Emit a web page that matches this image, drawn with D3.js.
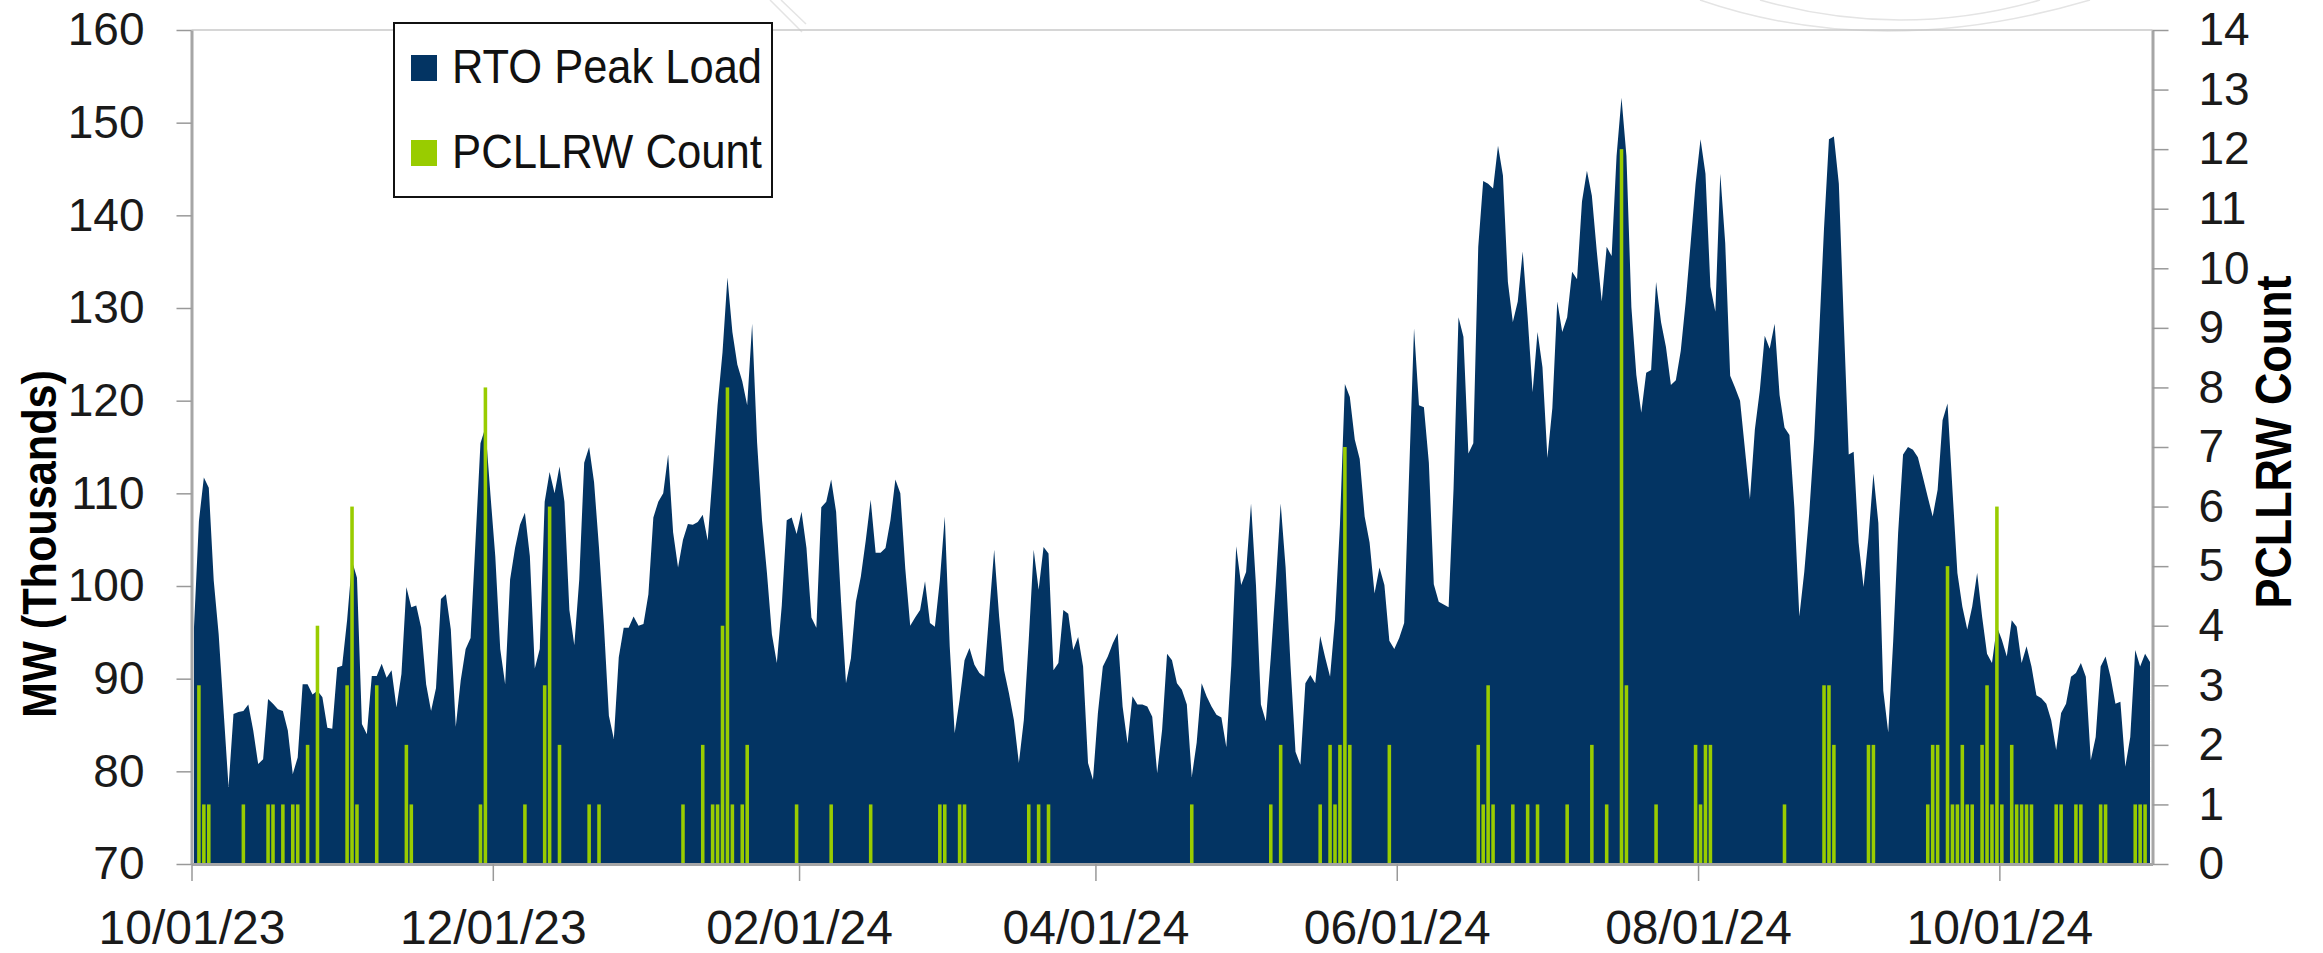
<!DOCTYPE html>
<html>
<head>
<meta charset="utf-8">
<script src="https://cdn.jsdelivr.net/npm/d3@7"></script>
<style>
  body { margin: 0; background: #fff; }
  svg { display: block; font-family: Arial, "Liberation Sans", sans-serif; }
</style>
</head>
<body>
<svg width="2323" height="953"></svg>
<script>
const startDate = new Date(Date.UTC(2023, 9, 1))
const endDate = new Date(Date.UTC(2024, 10, 1))

// RTO daily peak load (thousands of MW), one value per day starting 10/01/23
const peakLoad = [
    95.5, 107.0, 111.7, 110.6, 100.6, 94.8, 86.5, 78.3, 86.2, 86.4,
    86.5, 87.2, 84.4, 80.8, 81.3, 87.8, 87.3, 86.7, 86.5, 84.4,
    79.7, 81.5, 89.4, 89.4, 88.3, 88.7, 88.0, 84.7, 84.6, 91.2,
    91.4, 96.3, 102.7, 100.9, 85.1, 84.0, 90.3, 90.3, 91.6, 90.1,
    90.9, 86.9, 90.5, 99.9, 97.7, 97.9, 95.5, 89.4, 86.5, 89.0,
    98.6, 99.1, 95.3, 84.8, 89.8, 93.2, 94.4, 104.9, 115.4, 117.1,
    110.0, 103.2, 93.2, 89.4, 100.7, 104.1, 106.6, 107.9, 103.2, 91.1,
    93.2, 109.1, 112.3, 110.0, 112.9, 109.1, 97.4, 93.6, 100.7, 113.3,
    115.0, 111.2, 104.1, 95.7, 86.0, 83.5, 92.3, 95.5, 95.5, 96.7,
    95.7, 95.9, 99.1, 107.4, 109.1, 110.0, 114.2, 105.8, 102.0, 105.0,
    106.7, 106.6, 106.9, 107.7, 104.9, 112.0, 119.5, 125.2, 133.3, 127.4,
    123.9, 122.1, 119.5, 128.3, 115.5, 107.1, 101.4, 94.8, 91.7, 97.9,
    107.1, 107.4, 105.6, 108.0, 104.1, 96.6, 95.5, 108.5, 109.1, 111.5,
    108.0, 98.3, 89.5, 92.2, 98.3, 101.0, 104.9, 109.3, 103.6, 103.6,
    104.1, 107.1, 111.5, 110.0, 101.9, 95.7, 96.6, 97.4, 100.5, 96.0,
    95.6, 100.6, 107.5, 93.5, 84.1, 87.7, 92.0, 93.3, 91.5, 90.6,
    90.2, 97.1, 103.9, 96.7, 90.9, 88.4, 85.5, 80.9, 85.5, 94.2,
    103.9, 99.6, 104.2, 103.5, 90.9, 91.7, 97.4, 97.0, 93.1, 94.5,
    91.3, 80.9, 79.1, 86.3, 91.3, 92.4, 93.8, 94.9, 87.0, 83.0,
    88.1, 87.2, 87.2, 87.0, 85.9, 79.8, 84.5, 92.7, 92.0, 89.5,
    88.8, 87.2, 79.4, 83.1, 89.5, 88.1, 87.0, 86.1, 85.8, 82.6,
    91.4, 104.3, 100.1, 101.5, 108.9, 100.1, 87.2, 85.4, 92.3, 100.1,
    108.9, 102.0, 91.4, 82.1, 80.7, 89.5, 90.4, 89.5, 94.6, 92.3,
    90.2, 96.4, 106.6, 121.8, 120.4, 115.8, 113.7, 107.5, 104.7, 99.2,
    102.0, 100.1, 94.1, 93.2, 94.4, 96.0, 112.1, 127.8, 119.5, 119.3,
    113.3, 100.2, 98.3, 98.0, 97.7, 110.5, 129.0, 126.9, 114.3, 115.4,
    136.6, 143.7, 143.4, 142.9, 147.5, 144.3, 132.8, 128.5, 130.7, 136.1,
    129.0, 120.9, 127.4, 123.6, 113.8, 119.2, 130.7, 127.4, 129.0, 133.9,
    133.1, 141.5, 144.8, 142.1, 136.1, 130.7, 136.6, 135.6, 146.4, 152.7,
    146.4, 130.1, 122.8, 118.7, 123.0, 123.3, 132.8, 128.5, 125.8, 121.7,
    122.2, 125.4, 130.7, 137.0, 143.4, 148.2, 144.5, 132.3, 129.6, 144.5,
    137.0, 122.7, 121.4, 120.0, 114.7, 109.4, 116.9, 121.1, 127.0, 125.6,
    128.3, 120.6, 117.1, 116.3, 108.4, 96.7, 101.5, 107.8, 115.8, 127.0,
    138.6, 148.2, 148.5, 143.4, 128.5, 114.2, 114.5, 104.7, 99.9, 105.2,
    112.1, 106.8, 88.7, 84.2, 94.0, 105.7, 114.2, 115.0, 114.7, 113.9,
    111.8, 109.6, 107.5, 110.4, 117.9, 119.7, 110.4, 101.4, 97.8, 95.3,
    97.8, 101.4, 96.7, 92.7, 91.7, 95.6, 94.2, 92.4, 96.3, 95.6,
    91.7, 93.5, 91.3, 88.2, 87.9, 87.3, 85.5, 82.3, 86.3, 87.3,
    90.2, 90.6, 91.7, 90.2, 81.2, 83.7, 91.3, 92.4, 90.2, 87.3,
    87.5, 80.5, 83.7, 93.1, 91.3, 92.7, 91.8
]

// days (counted from 10/01/23) that had PCLLRW warnings, and how many
const pcllrwDays = [
    1, 2, 3, 10, 15, 16, 18, 20, 21, 23, 25, 31, 32, 33, 37, 43, 44,
    58, 59, 67, 71, 72, 74, 80, 82, 99,
    103, 105, 106, 107, 108, 109, 111, 112, 122, 129, 137,
    151, 152, 155, 156, 169, 171, 173,
    202, 218, 220, 228, 230, 231, 232, 233, 234, 242,
    260, 261, 262, 263, 267, 270, 272, 278, 283, 286, 289, 290, 296,
    304, 305, 306, 307, 322, 330, 331, 332, 339, 340,
    351, 352, 353, 355, 356, 357, 358, 359, 360, 362, 363, 364, 365, 366,
    368, 369, 370, 371, 372, 377, 378, 381, 382, 386, 387, 393, 394, 395
]
const pcllrwCounts = [
    3, 1, 1, 1, 1, 1, 1, 1, 1, 2, 4, 3, 6, 1, 3, 2, 1,
    1, 8, 1, 3, 6, 2, 1, 1, 1,
    2, 1, 1, 4, 8, 1, 1, 2, 1, 1, 1,
    1, 1, 1, 1, 1, 1, 1,
    1, 1, 2, 1, 2, 1, 2, 7, 2, 2,
    2, 1, 3, 1, 1, 1, 1, 1, 2, 1, 12, 3, 1,
    2, 1, 2, 2, 1, 3, 3, 2, 2, 2,
    1, 2, 2, 5, 1, 1, 2, 1, 1, 2, 3, 1, 6, 1,
    2, 1, 1, 1, 1, 1, 1, 1, 1, 1, 1, 1, 1, 1
]

const loadTicks = d3.range(70, 161, 10)
const countTicks = d3.range(0, 15)
const dateTicks = ['2023-10-01', '2023-12-01', '2024-02-01', '2024-04-01', '2024-06-01', '2024-08-01', '2024-10-01']

const navy = '#033463'
const green = '#99cc00'
const axisGrey = '#a6a6a6'

const svg = d3.select('svg')
const plot = { left: 191.5, right: 2152.5, top: 30, bottom: 864 }

const x = d3.scaleUtc().domain([startDate, endDate]).range([plot.left, plot.right])
const yLoad = d3.scaleLinear().domain([70, 160]).range([plot.bottom, plot.top])
const yCount = d3.scaleLinear().domain([0, 14]).range([plot.bottom, plot.top])

const dayWidth = x(d3.utcDay.offset(startDate, 1)) - x(startDate)
function dayX(i) {
    return x(d3.utcDay.offset(startDate, i)) + dayWidth / 2
}

// faint background watermark strokes from the slide template
const mark = svg.append('g')
    .attr('fill', 'none')
    .attr('stroke', '#e4e4e4')
    .attr('stroke-width', 1.5)
mark.append('path').attr('d', 'M770,0 L802,32')
mark.append('path').attr('d', 'M781,0 L806,24')
mark.append('path').attr('d', 'M1700,0 Q1880,62 2090,0')
mark.append('path').attr('d', 'M1760,0 Q1900,40 2040,0')

// peak load area
const area = d3.area()
    .x((d, i) => dayX(i))
    .y0(yLoad(70))
    .y1(d => yLoad(d))

svg.append('path')
    .datum(peakLoad)
    .attr('fill', navy)
    .attr('d', area)

// PCLLRW count columns on the secondary axis
const barWidth = dayWidth * 0.72
svg.append('g')
    .selectAll('rect')
    .data(pcllrwDays)
    .enter().append('rect')
    .attr('x', d => dayX(d) - barWidth / 2)
    .attr('y', (d, i) => yCount(pcllrwCounts[i]))
    .attr('width', barWidth)
    .attr('height', (d, i) => yCount(0) - yCount(pcllrwCounts[i]))
    .attr('fill', green)

// top border of plot area
svg.append('line')
    .attr('x1', plot.left).attr('x2', plot.right)
    .attr('y1', plot.top).attr('y2', plot.top)
    .attr('stroke', '#c8c8c8')
    .attr('stroke-width', 1.5)

function styleAxis(g, fontSize) {
    g.select('.domain').attr('stroke', axisGrey).attr('stroke-width', 3)
    g.selectAll('.tick line').attr('stroke', '#999').attr('stroke-width', 1.5)
    g.selectAll('.tick text').attr('fill', '#1a1a1a').style('font-size', fontSize + 'px')
    g.attr('font-family', null)
}

const leftAxis = svg.append('g')
    .attr('transform', `translate(${plot.left},0)`)
    .call(d3.axisLeft(yLoad).tickValues(loadTicks).tickSize(15).tickSizeOuter(0).tickPadding(32))
styleAxis(leftAxis, 46)

const rightAxis = svg.append('g')
    .attr('transform', `translate(${plot.right},0)`)
    .call(d3.axisRight(yCount).tickValues(countTicks).tickSize(16).tickSizeOuter(0).tickPadding(30))
styleAxis(rightAxis, 46)

const bottomAxis = svg.append('g')
    .attr('transform', `translate(0,${plot.bottom})`)
    .call(d3.axisBottom(x)
        .tickValues(dateTicks.map(d => new Date(d + 'T00:00:00Z')))
        .tickFormat(d3.utcFormat('%m/%d/%y'))
        .tickSize(17).tickSizeOuter(0))
styleAxis(bottomAxis, 48)
bottomAxis.selectAll('.tick text').attr('y', 80).attr('dy', null)

// axis titles
svg.append('text')
    .attr('transform', 'translate(56,544) rotate(-90)')
    .attr('text-anchor', 'middle')
    .attr('font-weight', 'bold')
    .attr('font-size', 48)
    .attr('textLength', 348)
    .attr('lengthAdjust', 'spacingAndGlyphs')
    .text('MW (Thousands)')

svg.append('text')
    .attr('transform', 'translate(2291,442) rotate(-90)')
    .attr('text-anchor', 'middle')
    .attr('font-weight', 'bold')
    .attr('font-size', 50)
    .attr('textLength', 333)
    .attr('lengthAdjust', 'spacingAndGlyphs')
    .text('PCLLRW Count')

// legend
const legend = svg.append('g')
legend.append('rect')
    .attr('x', 394).attr('y', 23)
    .attr('width', 378).attr('height', 174)
    .attr('fill', '#fff')
    .attr('stroke', '#111')
    .attr('stroke-width', 2)

const legendItems = [
    { label: 'RTO Peak Load', color: navy },
    { label: 'PCLLRW Count', color: green }
]
legend.selectAll('g.item')
    .data(legendItems)
    .enter().append('g')
    .attr('class', 'item')
    .attr('transform', (d, i) => `translate(411,${55 + i * 85})`)
    .each(function (d) {
        const item = d3.select(this)
        item.append('rect')
            .attr('width', 26).attr('height', 26)
            .attr('fill', d.color)
        item.append('text')
            .attr('x', 41).attr('y', 28)
            .attr('font-size', 48)
            .attr('fill', '#111')
            .attr('textLength', 310)
            .attr('lengthAdjust', 'spacingAndGlyphs')
            .text(d.label)
    })
</script>
</body>
</html>
